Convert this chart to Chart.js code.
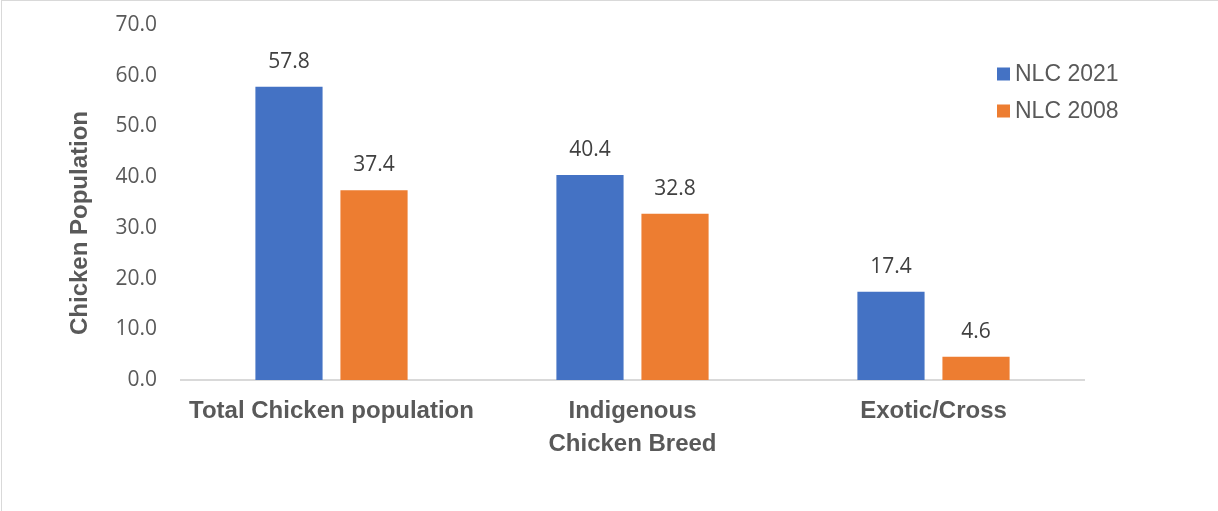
<!DOCTYPE html>
<html>
<head>
<meta charset="utf-8">
<script src="https://cdn.jsdelivr.net/npm/chart.js@4/dist/chart.umd.min.js"></script>
<style>
  html, body { margin: 0; padding: 0; background: #fff; }
  #wrap { position: relative; width: 1218px; height: 511px; }
  #frame { position: absolute; left: 1px; top: 0; width: 1217px; height: 511px;
           border-left: 1px solid #d9d9d9; border-top: 1px solid #d9d9d9;
           box-sizing: border-box; pointer-events: none; }
</style>
</head>
<body>
<div id="wrap">
  <canvas id="chart" width="1218" height="511"></canvas>
  <div id="frame"></div>
</div>
<script>
const categories = ['Total Chicken population', 'Indigenous', 'Exotic/Cross'];
const nlc2021 = [57.8, 40.4, 17.4];
const nlc2008 = [37.4, 32.8, 4.6];
const seriesLabels = ['NLC 2021', 'NLC 2008'];
const seriesColors = ['#4472C4', '#ED7D31'];
const yTitle = 'Chicken Population';
const xTitle = 'Chicken Breed';

const textGray = '#595959';

// value labels above each bar
const valueLabels = {
  id: 'valueLabels',
  afterDatasetsDraw(chart) {
    const ctx = chart.ctx;
    ctx.save();
    ctx.font = '21px "Open Sans"';
    ctx.fillStyle = '#404040';
    ctx.textAlign = 'center';
    ctx.textBaseline = 'middle';
    chart.data.datasets.forEach((ds, i) => {
      chart.getDatasetMeta(i).data.forEach((bar, j) => {
        ctx.fillText(ds.data[j].toFixed(1), bar.x, bar.y - 25);
      });
    });
    ctx.restore();
  }
};

// legend at the top right, and the y title (Excel centres it a bit lower)
const extras = {
  id: 'extras',
  afterDraw(chart) {
    const ctx = chart.ctx;
    ctx.save();
    ctx.font = '23px "Liberation Sans", Arial';
    ctx.textBaseline = 'middle';
    ctx.textAlign = 'left';
    chart.data.datasets.forEach((ds, i) => {
      const y = 74 + i * 37;
      ctx.fillStyle = ds.backgroundColor;
      ctx.fillRect(997, y - 6.5, 13, 13);
      ctx.fillStyle = textGray;
      ctx.fillText(ds.label, 1015, y + 1);
    });

    ctx.translate(80, 223);
    ctx.rotate(-Math.PI / 2);
    ctx.font = 'bold 24px "Liberation Sans", Arial';
    ctx.textAlign = 'center';
    ctx.fillText(yTitle, 0, 0);
    ctx.restore();
  }
};

new Chart(document.getElementById('chart'), {
  type: 'bar',
  data: {
    labels: categories,
    datasets: [
      { label: seriesLabels[0], data: nlc2021, backgroundColor: seriesColors[0] },
      { label: seriesLabels[1], data: nlc2008, backgroundColor: seriesColors[1] }
    ]
  },
  options: {
    responsive: false,
    animation: false,
    events: [],
    layout: { padding: { left: 0, right: 134, top: 25, bottom: 0 } },
    datasets: { bar: { categoryPercentage: 0.565, barPercentage: 0.79 } },
    plugins: { legend: { display: false }, tooltip: { enabled: false } },
    scales: {
      x: {
        grid: { display: false, drawTicks: false },
        border: { display: true, color: '#d9d9d9', width: 2 },
        ticks: { color: textGray, padding: 17, font: { family: '"Liberation Sans", Arial', size: 24, weight: 'bold' } },
        title: { display: true, text: xTitle, color: textGray, padding: { top: 0, bottom: 52 },
                 font: { family: '"Liberation Sans", Arial', size: 24, weight: 'bold' } },
        afterFit(scale) { scale.height = 131; }
      },
      y: {
        min: 0, max: 70,
        grid: { display: false, drawTicks: false },
        border: { display: false },
        ticks: { stepSize: 10, color: textGray, padding: 24, font: { family: '"Open Sans"', size: 21 },
                 callback: v => v.toFixed(1) },
        afterFit(scale) {
          scale.width = 181;
          scale.paddingTop = 10;
          scale.paddingBottom = 10;
        }
      }
    }
  },
  plugins: [valueLabels, extras]
});
</script>
</body>
</html>
